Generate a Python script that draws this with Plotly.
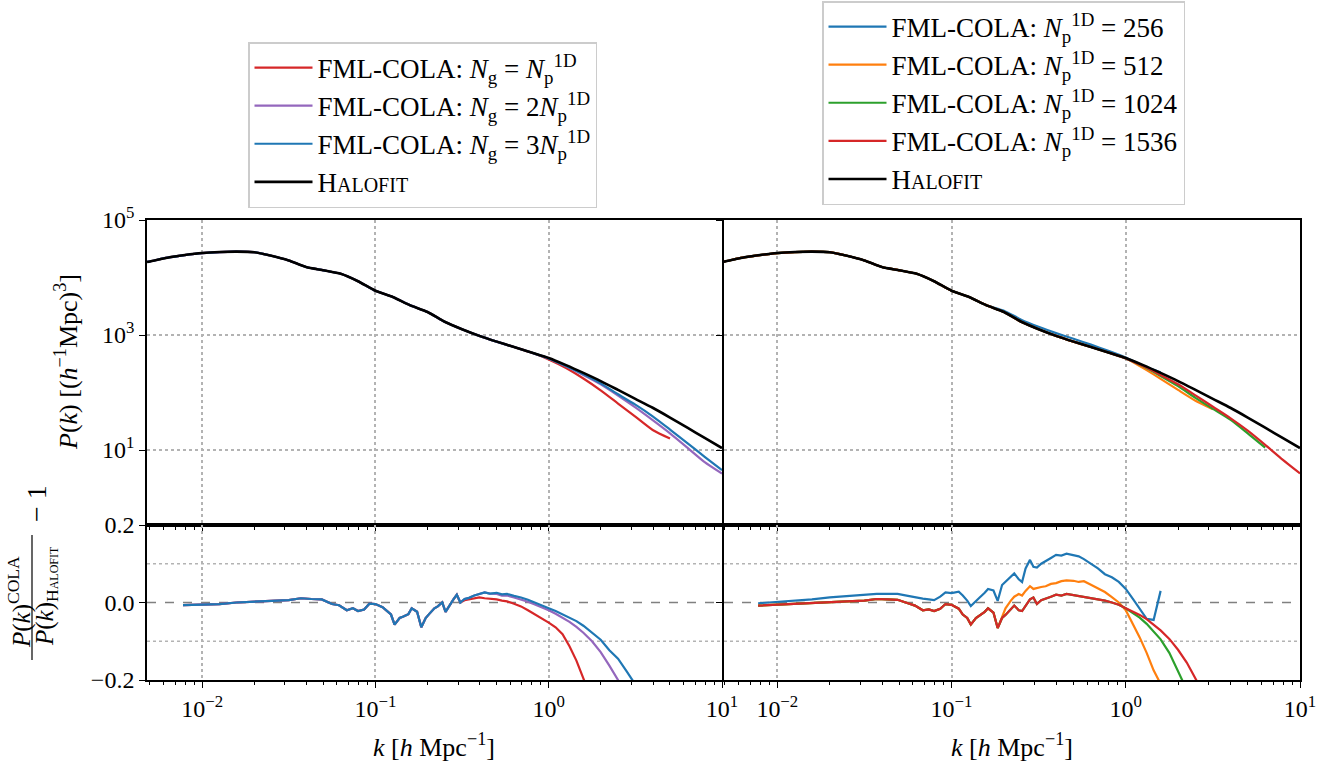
import plotly.graph_objects as go

# ---------------- data ----------------
# top panels: common k grid [h/Mpc]
k_top = [0.00481, 0.00501, 0.00631, 0.00794, 0.0100, 0.0126, 0.0158, 0.0200, 0.0251,
         0.0316, 0.0398, 0.0501, 0.0631, 0.0794, 0.100, 0.126, 0.158, 0.200, 0.251,
         0.316, 0.398, 0.501, 0.631, 0.794, 1.000, 1.259, 1.585, 1.995, 2.512,
         3.162, 3.981, 5.012, 6.310, 7.943, 10.0]

P_halofit = [18620, 19050, 22130, 24550, 26610, 27730, 28180, 27540, 23880,
             19770, 15240, 13340, 11610, 8610, 5890, 4570, 3310, 2510, 1700,
             1260, 966, 767, 617, 495, 398, 299, 219, 158, 111,
             77.6, 54.3, 36.7, 24.5, 16.2, 10.8]

# left: grid resolution runs (coincide with Halofit at low k)
P_ng1 = P_halofit[:24] + [377, 267, 175, 109, 64.3, 38.0, 22.3, 15.8, None, None, None]
P_ng2 = P_halofit[:24] + [390, 285, 202, 139, 88.7, 55.1, 33.1, 19.5, 11.0, 6.17, 3.90]
P_ng3 = P_halofit[:24] + [392, 288, 207, 144, 93.1, 61.4, 38.5, 22.7, 13.2, 7.62, 4.45]

# right: particle number runs
P_np256 = P_halofit[:17] + [2640, 1850, 1390, 1080, 860, 680, 530, 406, 290, 225] + [None] * 8
P_np512 = P_halofit[:24] + [394, 265, 173, 111, 72.1, 51.3] + [None] * 5
P_np1024 = P_halofit[:24] + [392, 285, 194, 129, 80.9, 52.0, 33.7, 19.5, 11.0, None, None]
P_np1536 = P_halofit[:24] + [392, 288, 202, 139, 89.3, 56.6, 35.9, 21.7, 12.3, 6.81, 3.91]

# bottom panels: ratio P_COLA / P_Halofit - 1 on a common k grid
k_ratio = [0.00776, 0.0100, 0.0126, 0.0158, 0.0200, 0.0251, 0.0316, 0.0372, 0.0427, 0.0490,
           0.0562, 0.0617, 0.0684, 0.0741, 0.0794, 0.0861, 0.0923, 0.100, 0.110, 0.116,
           0.123, 0.129, 0.138, 0.145, 0.155, 0.162, 0.174, 0.184, 0.195, 0.204,
           0.219, 0.229, 0.243, 0.254, 0.266, 0.282, 0.295, 0.309, 0.327, 0.347,
           0.372, 0.398, 0.427, 0.457, 0.501, 0.537, 0.575, 0.631, 0.692, 0.759,
           0.832, 0.912, 1.000, 1.096, 1.202, 1.318, 1.445, 1.585, 1.778, 1.995,
           2.239, 2.512, 2.818, 3.162, 3.548]

r_ng3 = [-0.007, -0.006, -0.004, 0.000, 0.003, 0.004, 0.006, 0.011, 0.009, 0.008,
         -0.004, -0.007, -0.020, -0.015, -0.022, -0.018, -0.003, -0.004, -0.012, -0.022,
         -0.031, -0.057, -0.040, -0.036, -0.030, -0.015, -0.024, -0.064, -0.040, -0.030,
         -0.015, -0.010, 0.000, -0.024, -0.009, 0.008, 0.020, 0.000, 0.009, 0.012,
         0.018, 0.022, 0.026, 0.023, 0.025, 0.021, 0.022, 0.017, 0.013, 0.007,
         -0.001, -0.008, -0.015, -0.022, -0.030, -0.039, -0.048, -0.060, -0.077, -0.096,
         -0.123, -0.145, -0.178, -0.210, -0.245]
r_ng1 = r_ng3[:38] + [0.006, 0.008, 0.011, 0.013, 0.011, 0.010, 0.008, 0.005, 0.003, -0.003,
                      -0.010, -0.020, -0.030, -0.040, -0.052, -0.064, -0.082, -0.113, -0.150,
                      -0.196, -0.26, -0.31, -0.37, -0.42, -0.47, -0.51, -0.55]
r_ng2 = r_ng3[:44] + [0.022, 0.018, 0.018, 0.013, 0.008, 0.002, -0.005, -0.012, -0.020, -0.029,
                      -0.039, -0.050, -0.063, -0.078, -0.100, -0.128, -0.163, -0.200, -0.245,
                      -0.29, -0.34]

r_np1536 = [-0.008, -0.006, -0.004, -0.001, 0.001, 0.003, 0.005, 0.009, 0.008, 0.007,
            -0.002, -0.008, -0.020, -0.018, -0.022, -0.016, -0.004, -0.006, -0.016, -0.031,
            -0.040, -0.057, -0.040, -0.034, -0.024, -0.015, -0.026, -0.066, -0.040, -0.032,
            -0.018, -0.008, -0.020, -0.022, -0.009, 0.008, 0.013, -0.004, 0.006, 0.011,
            0.015, 0.020, 0.018, 0.022, 0.019, 0.018, 0.016, 0.013, 0.009, 0.005,
            0.000, -0.006, -0.015, -0.023, -0.032, -0.043, -0.057, -0.072, -0.094, -0.122,
            -0.155, -0.194, -0.235, -0.28, -0.32]
r_np1024 = r_np1536[:52] + [-0.015, -0.026, -0.039, -0.055, -0.075, -0.095, -0.13, -0.18,
                            -0.23, -0.28, -0.32, -0.35, -0.37]
r_np512 = r_np1536[:28] + [-0.038, -0.015, 0.005, 0.015, 0.022, 0.018, 0.030, 0.042, 0.035,
                           0.038, 0.040, 0.042, 0.048, 0.050, 0.055, 0.057, 0.056, 0.053,
                           0.055, 0.046, 0.036, 0.027, 0.014, 0.000, -0.020, -0.055, -0.090,
                           -0.130, -0.175, -0.21, -0.26, -0.30, -0.33, -0.35, -0.35, -0.34,
                           None]
r_np256 = [-0.002, 0.001, 0.004, 0.008, 0.013, 0.017, 0.020, 0.022, 0.022, 0.022,
           0.017, 0.013, 0.010, 0.008, 0.006, 0.015, 0.026, 0.024, 0.028, 0.018,
           0.005, -0.009, 0.005, 0.013, 0.025, 0.035, 0.031, 0.004, 0.045, 0.053,
           0.065, 0.075, 0.060, 0.053, 0.088, 0.110, 0.092, 0.090, 0.100, 0.106,
           0.115, 0.123, 0.121, 0.126, 0.122, 0.119, 0.112, 0.100, 0.088, 0.073,
           0.065, 0.053, 0.035, 0.010, -0.016, -0.042, -0.045, 0.030] + [None] * 7

x_tickvals = [0.01, 0.1, 1, 10]
x_ticktext = ["10<sup>−2</sup>", "10<sup>−1</sup>", "10<sup>0</sup>", "10<sup>1</sup>"]
y_top_tickvals = [10, 1000, 100000]
y_top_ticktext = ["10<sup>1</sup>", "10<sup>3</sup>", "10<sup>5</sup>"]
y_bot_tickvals = [-0.2, 0.0, 0.2]
y_bot_ticktext = ["−0.2", "0.0", "0.2"]

# ---------------- styling ----------------
W, H = 1341, 764
FONT = "Liberation Serif"
C_BLUE, C_ORANGE, C_GREEN, C_RED, C_PURPLE = "#1f77b4", "#ff7f0e", "#2ca02c", "#d62728", "#9467bd"
HALO = "H<span style='font-size:20px'>ALOFIT</span>"

minor_x = [m * 10.0 ** e for e in (-3, -2, -1, 0) for m in range(2, 10)]

fig = go.Figure()

def line(x, y, color, xa, ya, name=None, legend=None, width=2.2, group=None, smooth=False):
    fig.add_trace(go.Scatter(
        x=x, y=y, mode="lines",
        line=dict(color=color, width=width, shape="spline" if smooth else "linear",
                  smoothing=0.6 if smooth else None),
        xaxis=xa, yaxis=ya, name=name, showlegend=name is not None,
        legend=legend, legendgroup=group, connectgaps=False, hoverinfo="skip"))

# top-left
line(k_top, P_ng1, C_RED, "x", "y", "FML-COLA: <i>N</i><sub>g</sub> = <i>N</i><sub>p</sub><sup>1D</sup>", "legend", group="a1", smooth=True)
line(k_top, P_ng2, C_PURPLE, "x", "y", "FML-COLA: <i>N</i><sub>g</sub> = 2<i>N</i><sub>p</sub><sup>1D</sup>", "legend", group="a2", smooth=True)
line(k_top, P_ng3, C_BLUE, "x", "y", "FML-COLA: <i>N</i><sub>g</sub> = 3<i>N</i><sub>p</sub><sup>1D</sup>", "legend", group="a3", smooth=True)
line(k_top, P_halofit, "black", "x", "y", HALO, "legend", width=2.6, group="a4", smooth=True)
# bottom-left
line(k_ratio, r_ng1, C_RED, "x3", "y3", group="a1")
line(k_ratio, r_ng2, C_PURPLE, "x3", "y3", group="a2")
line(k_ratio, r_ng3, C_BLUE, "x3", "y3", group="a3")
# top-right
line(k_top, P_np256, C_BLUE, "x2", "y2", "FML-COLA: <i>N</i><sub>p</sub><sup>1D</sup> = 256", "legend2", group="b1", smooth=True)
line(k_top, P_np512, C_ORANGE, "x2", "y2", "FML-COLA: <i>N</i><sub>p</sub><sup>1D</sup> = 512", "legend2", group="b2", smooth=True)
line(k_top, P_np1024, C_GREEN, "x2", "y2", "FML-COLA: <i>N</i><sub>p</sub><sup>1D</sup> = 1024", "legend2", group="b3", smooth=True)
line(k_top, P_np1536, C_RED, "x2", "y2", "FML-COLA: <i>N</i><sub>p</sub><sup>1D</sup> = 1536", "legend2", group="b4", smooth=True)
line(k_top, P_halofit, "black", "x2", "y2", HALO, "legend2", width=2.6, group="b5", smooth=True)
# bottom-right
line(k_ratio, r_np256, C_BLUE, "x4", "y4", group="b1")
line(k_ratio, r_np512, C_ORANGE, "x4", "y4", group="b2")
line(k_ratio, r_np1024, C_GREEN, "x4", "y4", group="b3")
line(k_ratio, r_np1536, C_RED, "x4", "y4", group="b4")

XL = [147 / W, 722 / W]
XR = [724 / W, 1300 / W]
YT = [1 - 525 / H, 1 - 220 / H]
YB = [1 - 680 / H, 1 - 525 / H]

tickfont = dict(family=FONT, size=24, color="black")

def xaxis(domain, anchor, labels, rng):
    return dict(
        domain=domain, anchor=anchor, type="log", range=rng, automargin=False,
        showline=True, linecolor="black", linewidth=1.6, mirror=True,
        ticks="outside", ticklen=6, tickwidth=1.4, tickcolor="black",
        tickmode="array", tickvals=x_tickvals, ticktext=x_ticktext,
        showticklabels=labels, tickfont=tickfont,
        showgrid=True, gridcolor="#b3b3b3", griddash="dot", gridwidth=1.6,
        zeroline=False,
        minor=dict(ticks="outside", ticklen=3.5, tickwidth=1.0, tickcolor="black",
                   tickmode="array", tickvals=minor_x, showgrid=False))

def ytop(domain, anchor, labels):
    return dict(
        domain=domain, anchor=anchor, type="log", range=[-0.304, 5], automargin=False,
        showline=True, linecolor="black", linewidth=1.6, mirror=True,
        ticks="outside", ticklen=6, tickwidth=1.4, tickcolor="black",
        tickmode="array", tickvals=y_top_tickvals, ticktext=y_top_ticktext,
        showticklabels=labels, tickfont=tickfont,
        showgrid=True, gridcolor="#b3b3b3", griddash="dot", gridwidth=1.6,
        zeroline=False)

def ybot(domain, anchor, labels):
    return dict(
        domain=domain, anchor=anchor, range=[-0.2, 0.2], automargin=False,
        showline=True, linecolor="black", linewidth=1.6, mirror=True,
        ticks="outside", ticklen=6, tickwidth=1.4, tickcolor="black",
        tickmode="array", tickvals=y_bot_tickvals, ticktext=y_bot_ticktext,
        showticklabels=labels, tickfont=tickfont,
        showgrid=False, zeroline=False)

shapes = []
for xr, yr in (("x3", "y3"), ("x4", "y4")):
    for yv in (0.1, -0.1):
        shapes.append(dict(type="line", xref=f"{xr} domain", yref=yr, x0=0, x1=1, y0=yv, y1=yv,
                           line=dict(color="#b3b3b3", width=1.6, dash="dot"), layer="below"))
    shapes.append(dict(type="line", xref=f"{xr} domain", yref=yr, x0=0, x1=1, y0=0, y1=0,
                       line=dict(color="#808080", width=1.4, dash="dash"), layer="below"))
# fraction bar of the lower y label
shapes.append(dict(type="line", xref="paper", yref="paper", x0=32 / W, x1=32 / W,
                   y0=1 - 660 / H, y1=1 - 535 / H, line=dict(color="black", width=1.2)))

lab = dict(family=FONT, size=26, color="black")
frac = dict(family=FONT, size=25, color="black")
annotations = [
    dict(text="<i>P</i>(<i>k</i>) [(<i>h</i><sup>−1</sup>Mpc)<sup>3</sup>]", x=66 / W, y=1 - 362 / H,
         xref="paper", yref="paper", textangle=-90, showarrow=False, font=lab,
         xanchor="center", yanchor="middle"),
    dict(text="<i>P</i>(<i>k</i>)<sup>COLA</sup>", x=19 / W, y=1 - 602 / H,
         xref="paper", yref="paper", textangle=-90, showarrow=False,
         font=frac, xanchor="center", yanchor="middle"),
    dict(text="<i>P</i>(<i>k</i>)<sub>H<span style='font-size:12px'>ALOFIT</span></sub>", x=46 / W, y=1 - 596 / H,
         xref="paper", yref="paper", textangle=-90, showarrow=False,
         font=frac, xanchor="center", yanchor="middle"),
    dict(text="− 1", x=36 / W, y=1 - 504 / H,
         xref="paper", yref="paper", textangle=-90, showarrow=False,
         font=dict(family=FONT, size=28, color="black"), xanchor="center", yanchor="middle"),
    dict(text="<i>k</i> [<i>h</i> Mpc<sup>−1</sup>]", x=(XL[0] + XL[1]) / 2, y=1 - 745 / H,
         xref="paper", yref="paper", showarrow=False, font=lab, xanchor="center", yanchor="middle"),
    dict(text="<i>k</i> [<i>h</i> Mpc<sup>−1</sup>]", x=(XR[0] + XR[1]) / 2, y=1 - 745 / H,
         xref="paper", yref="paper", showarrow=False, font=lab, xanchor="center", yanchor="middle"),
]

legend_common = dict(xanchor="left", yanchor="top", bgcolor="white", bordercolor="#cccccc",
                     borderwidth=1.5, font=dict(family=FONT, size=27, color="black"),
                     tracegroupgap=0, itemwidth=58, traceorder="grouped")

fig.update_layout(
    width=W, height=H, margin=dict(l=0, r=0, t=0, b=0, autoexpand=False),
    plot_bgcolor="white", paper_bgcolor="white",
    font=dict(family=FONT, color="black"),
    xaxis=xaxis(XL, "y", False, [-2.318, 1.0]),
    xaxis2=xaxis(XR, "y2", False, [-2.306, 1.0]),
    xaxis3=xaxis(XL, "y3", True, [-2.318, 1.0]),
    xaxis4=xaxis(XR, "y4", True, [-2.306, 1.0]),
    yaxis=ytop(YT, "x", True),
    yaxis2=ytop(YT, "x2", False),
    yaxis3=ybot(YB, "x3", True),
    yaxis4=ybot(YB, "x4", False),
    shapes=shapes, annotations=annotations,
    legend=dict(x=248 / W, y=1 - 42 / H, **legend_common),
    legend2=dict(x=822 / W, y=1 - 1 / H, **legend_common),
    showlegend=True,
)

fig.write_html("out.html", config={"displayModeBar": False},
               post_script="document.body.style.margin='0px';")
